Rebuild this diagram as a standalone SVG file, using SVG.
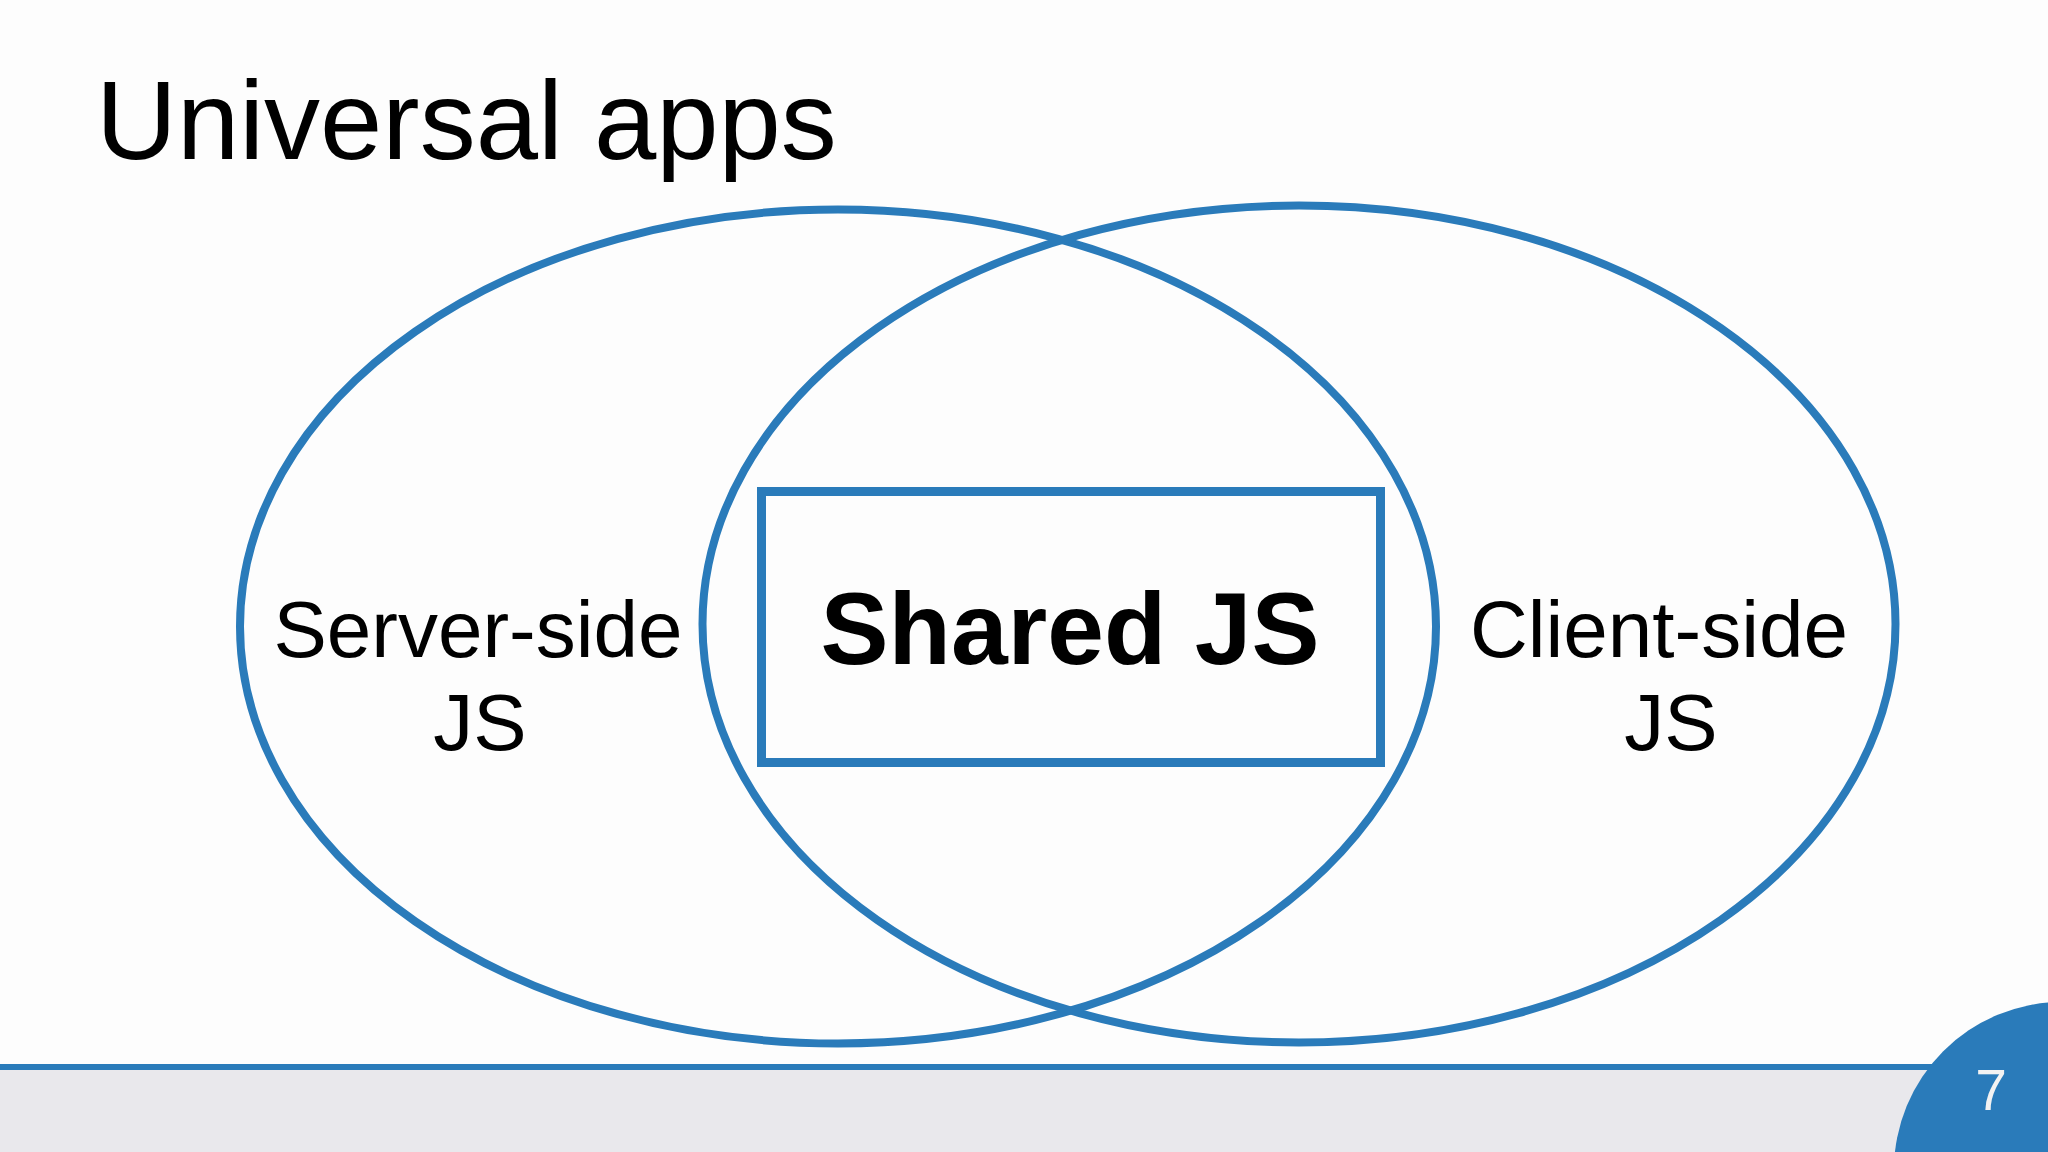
<svg xmlns="http://www.w3.org/2000/svg" width="2048" height="1152" viewBox="0 0 2048 1152">
  <style>
    .shape { fill: none; stroke: #2a7bba; stroke-width: 8; }
    .box { fill: none; stroke: #2a7bba; stroke-width: 9; }
    .label { font-family: "Liberation Sans", Arial, sans-serif; fill: #000; text-anchor: middle; }
    .side { font-size: 80px; }
    .shared { font-size: 102px; font-weight: bold; }
  </style>
  <rect x="0" y="0" width="2048" height="1152" fill="#fdfdfd"/>
  <g id="footer">
    <rect x="0" y="1068" width="2048" height="84" fill="#e9e8ec"/>
    <rect x="0" y="1064" width="2048" height="6" fill="#2a7bba"/>
    <circle cx="2062" cy="1170" r="168" fill="#2a7bba"/>
    <text x="1991" y="1110" font-family="'Liberation Sans', Arial, sans-serif" font-size="57" fill="#f2f2f2" text-anchor="middle">7</text>
  </g>
  <text id="title" x="96" y="159" font-family="'Liberation Sans', Arial, sans-serif" font-size="112" fill="#000">Universal apps</text>
  <g id="server-side">
    <ellipse class="shape" cx="838" cy="626.5" rx="598" ry="417"/>
    <text class="label side" x="478" y="657">Server-side</text>
    <text class="label side" x="480" y="750">JS</text>
  </g>
  <g id="client-side">
    <ellipse class="shape" cx="1299" cy="624" rx="596.5" ry="418.5"/>
    <text class="label side" x="1659" y="657">Client-side</text>
    <text class="label side" x="1671" y="750">JS</text>
  </g>
  <g id="shared-js">
    <rect class="box" x="761.5" y="491.5" width="619" height="271"/>
    <text class="label shared" x="1070" y="664">Shared JS</text>
  </g>
  <g id="connectors"/>
</svg>
